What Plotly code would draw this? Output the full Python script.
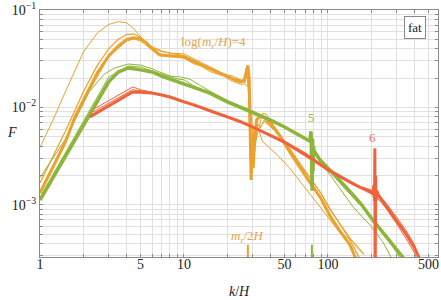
import plotly.graph_objects as go

# ---------------- data ----------------
# orange: log(m_r/H)=4
k_o0 = [1, 1.25, 1.5, 1.75, 2, 2.5, 3, 3.5, 4, 4.5, 5, 5.5, 6, 6.8, 8, 10, 12, 15, 18, 20, 23, 25, 26.3, 27.2, 27.8, 28.4, 28.9, 29.3, 29.8, 30.3, 31, 32, 34, 36, 40, 46, 55, 65, 75, 90, 103, 120, 142, 160]
F_o0 = [0.00133, 0.0026, 0.0044, 0.0080, 0.0119, 0.0226, 0.0337, 0.0428, 0.050, 0.0518, 0.0505, 0.046, 0.040, 0.0345, 0.034, 0.033, 0.029, 0.025, 0.0222, 0.0205, 0.019, 0.0183, 0.019, 0.024, 0.027, 0.020, 0.006, 0.0018, 0.004, 0.0024, 0.005, 0.0075, 0.0082, 0.0080, 0.0068, 0.0052, 0.0034, 0.0023, 0.0017, 0.00115, 0.00078, 0.00055, 0.00039, 0.00026]

k_o1 = [1, 1.25, 1.5, 2, 2.5, 3, 3.5, 4, 4.5, 5, 5.5, 6, 7, 8, 10, 12, 15, 18, 20, 22, 25, 26.5, 27.5, 28.3, 28.8, 29.5, 30.5, 31.5, 33, 35, 37, 40, 46, 55, 65, 75, 90, 103, 120, 142, 160, 178]
F_o1 = [0.0039, 0.0078, 0.0145, 0.037, 0.058, 0.071, 0.076, 0.074, 0.064, 0.053, 0.046, 0.042, 0.038, 0.036, 0.0355, 0.031, 0.026, 0.023, 0.0215, 0.021, 0.019, 0.0195, 0.021, 0.012, 0.004, 0.009, 0.003, 0.0068, 0.0058, 0.0087, 0.0086, 0.0073, 0.0055, 0.0037, 0.0026, 0.0019, 0.0013, 0.0009, 0.00065, 0.00046, 0.00036, 0.00031]

k_o2 = [1, 1.25, 1.5, 2, 2.5, 3, 3.5, 4, 4.5, 5, 5.5, 6, 7, 8, 10, 12, 14, 16, 18, 20, 23, 25, 26.5, 27.8, 28.6, 29.2, 30, 31, 32.5, 34, 36, 38, 46, 55, 65, 75, 90, 103, 120, 142, 171]
F_o2 = [0.00168, 0.0033, 0.0057, 0.0145, 0.027, 0.040, 0.050, 0.056, 0.057, 0.052, 0.046, 0.041, 0.0375, 0.036, 0.034, 0.030, 0.027, 0.0245, 0.023, 0.021, 0.0195, 0.019, 0.018, 0.025, 0.010, 0.0025, 0.0065, 0.0035, 0.0068, 0.0062, 0.0073, 0.0068, 0.0053, 0.0036, 0.0025, 0.0019, 0.0013, 0.00092, 0.00064, 0.00044, 0.00026]

k_o3 = [1, 2, 3, 4, 4.5, 5, 6, 7, 8, 9, 10, 12, 13, 15, 17, 19, 21, 25, 26.5, 28, 29, 30, 31.5, 33, 35, 38, 45, 54, 65, 78, 100, 121, 135, 150, 165, 178]
F_o3 = [0.0013, 0.0115, 0.033, 0.048, 0.0505, 0.048, 0.039, 0.035, 0.033, 0.033, 0.032, 0.0275, 0.027, 0.0235, 0.022, 0.021, 0.019, 0.0172, 0.0175, 0.016, 0.0025, 0.005, 0.0045, 0.006, 0.0045, 0.0040, 0.0032, 0.0024, 0.0017, 0.0012, 0.00075, 0.00052, 0.00047, 0.00042, 0.00036, 0.00031]

# green: log(m_r/H)=5
k_g0 = [1, 1.5, 2, 2.5, 3, 3.5, 4.1, 5, 6, 7, 8, 10, 12, 15, 20, 25, 30, 40, 50, 60, 70, 75, 76.3, 76.8, 77.3, 77.8, 78.3, 78.8, 79.5, 80.5, 82, 88, 100, 120, 147, 170, 205, 250, 300, 345]
F_g0 = [0.00112, 0.0032, 0.0065, 0.0115, 0.0183, 0.0231, 0.0254, 0.0243, 0.0231, 0.021, 0.0196, 0.0174, 0.0158, 0.0141, 0.0114, 0.0099, 0.0090, 0.0074, 0.0063, 0.0054, 0.0048, 0.0045, 0.0057, 0.0026, 0.0052, 0.0014, 0.0048, 0.0022, 0.0040, 0.0033, 0.0034, 0.0029, 0.0024, 0.0018, 0.0013, 0.00102, 0.0007, 0.00049, 0.00035, 0.00027]

k_g1 = [1, 1.5, 2.2, 2.8, 3.3, 4.1, 5, 6, 6.8, 8, 9.5, 11, 13, 15, 20, 30, 50, 70, 75, 76.5, 77.2, 78, 79, 82, 90, 120, 150, 200, 240, 275]
F_g1 = [0.0019, 0.0047, 0.0145, 0.022, 0.0254, 0.0279, 0.0272, 0.025, 0.0231, 0.021, 0.0205, 0.0195, 0.0168, 0.0148, 0.0118, 0.0092, 0.0064, 0.0049, 0.0046, 0.0055, 0.0025, 0.0047, 0.0032, 0.0034, 0.0027, 0.0015, 0.00095, 0.0006, 0.00042, 0.00029]

k_g2 = [1, 2, 3, 4.1, 5, 7, 9, 10, 12, 15, 20, 30, 50, 70, 75, 76.6, 77.4, 78.2, 79, 81, 90, 120, 150, 200, 260, 320]
F_g2 = [0.0012, 0.0072, 0.0205, 0.0266, 0.026, 0.022, 0.0196, 0.0192, 0.0163, 0.0143, 0.0116, 0.0091, 0.0064, 0.0049, 0.0046, 0.0053, 0.0019, 0.0050, 0.0028, 0.0034, 0.0028, 0.0017, 0.0012, 0.00075, 0.00045, 0.00028]

# red: log(m_r/H)=6
k_r0 = [2.22, 3, 3.5, 4.4, 5, 5.9, 7, 8, 10, 12, 15, 20, 25, 30, 40, 50, 70, 100, 140, 170, 195, 205, 209, 211, 212, 213, 214.5, 216, 219, 225, 250, 300, 350, 400, 440]
F_r0 = [0.0080, 0.0104, 0.0118, 0.0144, 0.0143, 0.0141, 0.0134, 0.0128, 0.0114, 0.0105, 0.0093, 0.0080, 0.0071, 0.0063, 0.0052, 0.0044, 0.0033, 0.0023, 0.00174, 0.0015, 0.0014, 0.0013, 0.0016, 0.0011, 0.0038, 0.0001, 0.0020, 0.0011, 0.0014, 0.00125, 0.0010, 0.0007, 0.0005, 0.00036, 0.00027]

k_r1 = [2.3, 3, 4.4, 5, 6, 8, 10, 15, 20, 30, 50, 100, 150, 195, 205, 209, 211, 212.5, 213.5, 215, 218, 225, 250, 300, 350, 400, 430]
F_r1 = [0.0094, 0.0118, 0.0162, 0.0152, 0.0143, 0.0130, 0.0116, 0.0094, 0.0081, 0.0064, 0.0044, 0.0023, 0.00165, 0.00135, 0.0013, 0.0011, 0.0019, 0.0009, 0.0016, 0.0012, 0.00135, 0.00128, 0.00107, 0.00075, 0.00054, 0.00039, 0.00029]

k_r2 = [2.25, 3, 4.4, 5, 7, 10, 15, 20, 30, 50, 100, 150, 195, 205, 210, 211.5, 212.8, 214, 216, 220, 250, 300, 350, 400, 420]
F_r2 = [0.0087, 0.0110, 0.0152, 0.0148, 0.0136, 0.0113, 0.0092, 0.0079, 0.0062, 0.0043, 0.00225, 0.0016, 0.00132, 0.00128, 0.0015, 0.0010, 0.0017, 0.0011, 0.0013, 0.00118, 0.00095, 0.00064, 0.00045, 0.00032, 0.00027]

# m_r / 2H markers
half_mass_k = [27.8, 77.4]
marker_F = [0.00025, 0.00039]

# ticks
x_major = [1, 5, 10, 50, 100, 500]
y_major = [1e-3, 1e-2, 1e-1]
y_major_text = ["10<sup>−3</sup>", "10<sup>−2</sup>", "10<sup>−1</sup>"]

# ---------------- style ----------------
ORANGE = "#EBA12D"
GREEN = "#8DB53B"
RED = "#F0623A"
FONT = '"Liberation Serif", "DejaVu Serif", serif'

fig = go.Figure()

def add(k, F, color, width):
    fig.add_trace(go.Scatter(x=k, y=F, mode="lines", line=dict(color=color, width=width),
                             showlegend=False, hoverinfo="skip"))

# thin lines first, thick on top
add(k_o1, F_o1, ORANGE, 1)
add(k_o2, F_o2, ORANGE, 1.2)
add(k_o3, F_o3, ORANGE, 1)
add(k_g1, F_g1, GREEN, 1)
add(k_g2, F_g2, GREEN, 1)
add(k_r1, F_r1, RED, 1)
add(k_r2, F_r2, RED, 1)
add(k_o0, F_o0, ORANGE, 3)
add(k_g0, F_g0, GREEN, 3.5)
add(k_r0, F_r0, RED, 3)

for kk, col in zip(half_mass_k, [ORANGE, GREEN]):
    add([kk, kk], marker_F, col, 2)

# grid tick values (all integer multiples per decade)
xt = [m * 10 ** e for e in range(0, 3) for m in range(1, 10)]
xt = [v for v in xt if v <= 600]
xtext = [str(v) if v in x_major else "" for v in xt]
yt = [m * 10.0 ** e for e in range(-4, -1) for m in range(1, 10)] + [0.1]
ytext = []
for v in yt:
    lab = ""
    for mv, mt in zip(y_major, y_major_text):
        if abs(v - mv) / mv < 1e-9:
            lab = mt
    ytext.append(lab)

axis_common = dict(showgrid=True, gridcolor="#e0e0e0", gridwidth=1, zeroline=False,
                   showline=True, linecolor="#8a8a8a", linewidth=1, mirror="ticks",
                   ticks="inside", ticklen=3, tickcolor="#8a8a8a", automargin=False,
                   tickfont=dict(family=FONT, size=14, color="#222"))

fig.update_xaxes(type="log", range=[0, 2.765], tickmode="array", tickvals=xt, ticktext=xtext,
                 ticklabelstandoff=-6, **axis_common)
fig.update_yaxes(type="log", range=[-3.535, -1], tickmode="array", tickvals=yt, ticktext=ytext,
                 **axis_common)

ann = [
    dict(x=1.208, y=-1.338, xref="x", yref="y", text="log(<i>m</i><sub>r</sub>/<i>H</i>)=4",
         font=dict(family=FONT, size=13, color="#E2A548"), showarrow=False),
    dict(x=1.889, y=-2.108, xref="x", yref="y", text="5",
         font=dict(family=FONT, size=13, color="#97B54E"), showarrow=False),
    dict(x=2.3125, y=-2.313, xref="x", yref="y", text="6",
         font=dict(family=FONT, size=13, color="#EE7052"), showarrow=False),
    dict(x=1.444, y=-3.328, xref="x", yref="y", text="<i>m</i><sub>r</sub>/2<i>H</i>",
         font=dict(family=FONT, size=13, color="#E2A548"), showarrow=False),
    dict(x=0.942, y=0.931, xref="paper", yref="paper", xanchor="center", yanchor="middle",
         text="fat", font=dict(family=FONT, size=13, color="#222"), showarrow=False,
         bordercolor="#888", borderwidth=1, borderpad=3, bgcolor="white"),
    dict(x=-0.07, y=0.506, xref="paper", yref="paper", xanchor="center", yanchor="middle",
         text="<i>F</i>", font=dict(family=FONT, size=14, color="#222"), showarrow=False),
    dict(x=0.5, y=-0.138, xref="paper", yref="paper", xanchor="center", yanchor="middle",
         text="<i>k</i>/<i>H</i>", font=dict(family=FONT, size=14, color="#222"), showarrow=False),
]
fig.update_layout(width=441, height=300, margin=dict(l=40, r=3, t=10, b=43),
                  paper_bgcolor="white", plot_bgcolor="white", annotations=ann,
                  showlegend=False)

fig.write_html("out.html", config={"displayModeBar": False},
               post_script="document.body.style.margin='0';document.body.style.overflow='hidden';")
